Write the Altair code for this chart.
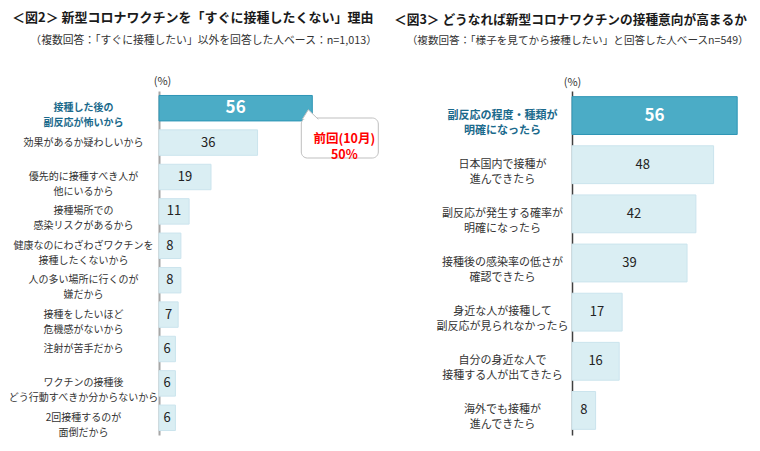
import altair as alt
import pandas as pd

FONT = "Noto Sans CJK JP"

# ---------------- data ----------------
left_title = "＜図2＞ 新型コロナワクチンを「すぐに接種したくない」理由"
left_subtitle = "\u200b\u3000\u2002\u2009（複数回答：「すぐに接種したい」以外を回答した人ベース：n=1,013）"
left_cats = [
    "接種した後の|副反応が怖いから",
    "効果があるか疑わしいから",
    "優先的に接種すべき人が|他にいるから",
    "接種場所での|感染リスクがあるから",
    "健康なのにわざわざワクチンを|接種したくないから",
    "人の多い場所に行くのが|嫌だから",
    "接種をしたいほど|危機感がないから",
    "注射が苦手だから",
    "ワクチンの接種後|どう行動すべきか分からないから",
    "2回接種するのが|面倒だから",
]
left_vals = [56, 36, 19, 11, 8, 8, 7, 6, 6, 6]
left_prev_text = "前回(10月)\n50%"

right_title = "＜図3＞ どうなれば新型コロナワクチンの接種意向が高まるか"
right_subtitle = "\u200b\u3000\u2009（複数回答：「様子を見てから接種したい」と回答した人ベースn=549）"
right_cats = [
    "副反応の程度・種類が|明確になったら",
    "日本国内で接種が|進んできたら",
    "副反応が発生する確率が|明確になったら",
    "接種後の感染率の低さが|確認できたら",
    "身近な人が接種して|副反応が見られなかったら",
    "自分の身近な人で|接種する人が出てきたら",
    "海外でも接種が|進んできたら",
]
right_vals = [56, 48, 42, 39, 17, 16, 8]

HL_FILL = "#4BACC6"
HL_STROKE = "#2E95B5"
LT_FILL = "#DAEEF3"
LT_STROKE = "#CBE4ED"
HL_LABEL = "#1B6A8C"


def panel(cats, vals, title, subtitle, xmax, width, height, pad, axis_color,
          axis_width, label_size, label_pad, title_x, title_y, title_dx,
          title_size, subtitle_size, callout=None):
    df = pd.DataFrame({"cat": cats, "value": vals})
    df["hl"] = ["hl"] + ["n"] * (len(cats) - 1)
    base = alt.Chart(df)
    test = f"datum.value == '{cats[0]}'"
    y = alt.Y(
        "cat:N",
        sort=cats,
        scale=alt.Scale(paddingInner=pad, paddingOuter=pad / 2),
        axis=alt.Axis(
            title="(%)", titleAngle=0, titleX=title_x, titleY=title_y,
            titleAlign="center", titleBaseline="middle", titleFontWeight="normal",
            titleFontSize=11, titleColor="#333", titleFont=FONT,
            domainColor=axis_color, domainWidth=axis_width,
            ticks=False, tickSize=0,
            labelExpr="split(datum.value, '|')",
            labelFont=FONT, labelFontSize=label_size, labelLineHeight=15,
            labelAlign="center", labelBaseline="middle", labelPadding=label_pad,
            labelLimit=400,
            labelColor={"condition": {"test": test, "value": HL_LABEL}, "value": "#333333"},
            labelFontWeight={"condition": {"test": test, "value": "bold"}, "value": "normal"},
        ),
    )
    x = alt.X("value:Q", scale=alt.Scale(domain=[0, xmax], nice=False), axis=None)
    bars = base.mark_bar(strokeWidth=1).encode(
        x=x, y=y,
        color=alt.Color("hl:N", scale=alt.Scale(domain=["hl", "n"], range=[HL_FILL, LT_FILL]), legend=None),
        stroke=alt.Stroke("hl:N", scale=alt.Scale(domain=["hl", "n"], range=[HL_STROKE, LT_STROKE]), legend=None),
    )
    mid = base.transform_calculate(mid="datum.value / 2")
    xm = alt.X("mid:Q", scale=alt.Scale(domain=[0, xmax], nice=False), axis=None)
    txt_n = mid.transform_filter("datum.hl == 'n'").mark_text(
        font=FONT, fontSize=13, color="#222222", baseline="middle", align="center"
    ).encode(x=xm, y=y, text="value:Q")
    txt_h = mid.transform_filter("datum.hl == 'hl'").mark_text(
        font=FONT, fontSize=17, fontWeight="bold", color="white", baseline="middle", align="center"
    ).encode(x=xm, y=y, text="value:Q")
    layers = [bars, txt_n, txt_h]
    if callout:
        hl = base.transform_filter("datum.hl == 'hl'")
        box = hl.mark_rect(fill="white", stroke="#BFBFBF", strokeWidth=1, cornerRadius=6,
                           xOffset=-11, x2Offset=66).encode(
            x=x, x2="value:Q", y=alt.value(27), y2=alt.value(67))
        tip = hl.mark_point(shape="M -1 0.6 L -0.25 -0.6 L 1 0.6", size=256, filled=True,
                            fill="white", stroke="#BFBFBF", strokeWidth=1, opacity=1,
                            xOffset=-2).encode(x=x, y=alt.value(23.5))
        ctext = hl.mark_text(font=FONT, fontSize=12.5, fontWeight="bold", color="#FF0000",
                             lineBreak="\n", lineHeight=16, baseline="middle", align="center",
                             xOffset=32).encode(x=x, y=alt.value(48), text=alt.value(callout))
        layers += [box, tip, ctext]
    return alt.layer(*layers).properties(
        width=width, height=height,
        title=alt.TitleParams(
            text=title, subtitle=subtitle, anchor="start", frame="bounds", dx=title_dx,
            font=FONT, fontSize=title_size, fontWeight="bold", color="#1a1a1a",
            subtitleFont=FONT, subtitleFontSize=subtitle_size, subtitleColor="#333333",
            subtitlePadding=10, offset=29,
        ),
    )


left = panel(left_cats, left_vals, left_title, left_subtitle, 80, 219, 344, 0.26,
             "#A6A6A6", 2, 10, 76, 3, -10, 4, 13, 10.8, callout=left_prev_text)
right = panel(right_cats, right_vals, right_title, right_subtitle, 60, 177, 344, 0.23,
              "#404040", 1.5, 11, 70, 0, -9, -42, 12.7, 10.6)

chart = alt.hconcat(left, right, spacing=15).properties(
    padding={"left": 0, "top": 4, "right": 0, "bottom": 0}
).configure(font=FONT).configure_view(stroke=None)

chart.save("out.html", embed_options={"renderer": "svg", "actions": False})
